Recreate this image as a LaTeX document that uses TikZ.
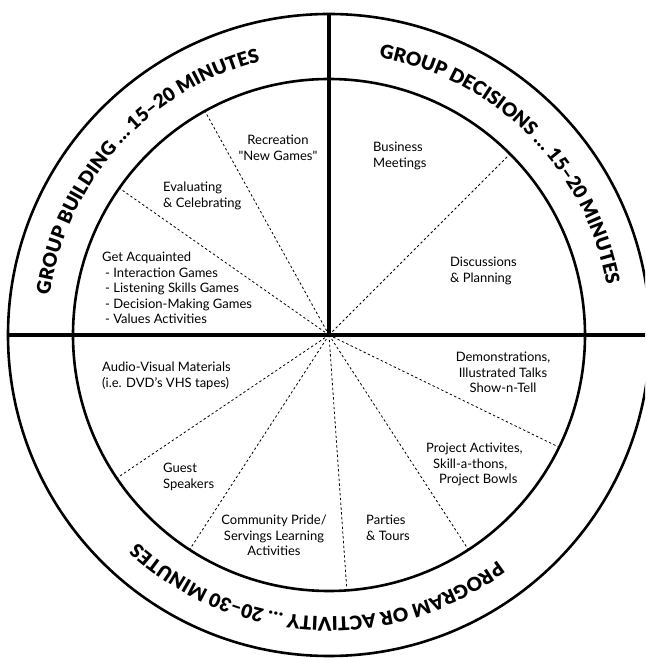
\documentclass[tikz,border=0pt]{standalone}
\usepackage{fontspec}
\setmainfont{Lato}[Ligatures=TeXOff]
\newfontfamily\ringfont{Lato Black}
\usetikzlibrary{decorations.text}
\def\ringlabel(#1:#2)#3{\path[decorate,decoration={text along path,text align=center,text={|\ringfont\fontsize{19}{19}\selectfont|#3}}] (#1:282pt) arc[start angle=#1,end angle=#2,radius=282pt];}

\begin{document}
\begin{tikzpicture}[x=1pt,y=1pt,
		ring/.style={line width=2.6pt},
		axis/.style={line width=3.3pt},
		spoke/.style={line width=0.8pt,dash pattern=on 2.4pt off 2.4pt},
		label/.style={inner sep=0pt,font=\fontsize{13}{15.5}\selectfont}]
			%%%%% START %%%%%
			
			\clip (-329,-323) rectangle (316,335);
			\coordinate (hub) at (0,0);
			
			\draw[ring] (hub) circle (321pt);
			\draw[ring] (hub) circle (256pt);
			
			\foreach \a in {45,119,145,214,237,274,303,334}
				\draw[spoke] (hub) -- (\a:256pt);
			
			\draw[axis] (-321,0) -- (321,0);
			\draw[axis] (hub) -- (0,321);
			
			\ringlabel(188:88){GROUP BUILDING … 15–20 MINUTES}
			\ringlabel(95:-5){GROUP DECISIONS … 15–20 MINUTES}
			\ringlabel(-43:-143){PROGRAM OR ACTIVITY … 20–30 MINUTES}
			
			\node[label,anchor=north,align=center] (recreation) at (-51,200) {Recreation\\"New Games"};
			\node[label,anchor=north west,align=left] (evaluating) at (-166,153) {Evaluating\\\& Celebrating};
			\node[label,anchor=north west,align=left] (acquainted) at (-227,83) {Get Acquainted\\\hspace*{3pt}- Interaction Games\\\hspace*{3pt}- Listening Skills Games\\\hspace*{3pt}- Decision-Making Games\\\hspace*{3pt}- Values Activities};
			
			\node[label,anchor=north west,align=left] (business) at (44,193) {Business\\Meetings};
			\node[label,anchor=north west,align=left] (discussions) at (121,78) {Discussions\\\& Planning};
			
			\node[label,anchor=north west,align=left] (audiovisual) at (-227,-27) {Audio-Visual Materials\\(i.e. DVD’s VHS tapes)};
			\node[label,anchor=north west,align=left] (guest) at (-166,-128) {Guest\\Speakers};
			\node[label,anchor=north,align=center] (community) at (-55,-180) {Community Pride/\\Servings Learning\\Activities};
			\node[label,anchor=north west,align=left] (parties) at (37,-180) {Parties\\\& Tours};
			\node[label,anchor=north west,align=left] (project) at (97,-108) {Project Activites,\\\hspace*{7pt}Skill-a-thons,\\\hspace*{13pt}Project Bowls};
			\node[label,anchor=north,align=center] (demos) at (174,-17) {Demonstrations,\\Illustrated Talks\\Show-n-Tell};
			
			%%%%% END %%%%%
		\end{tikzpicture}
\end{document}
